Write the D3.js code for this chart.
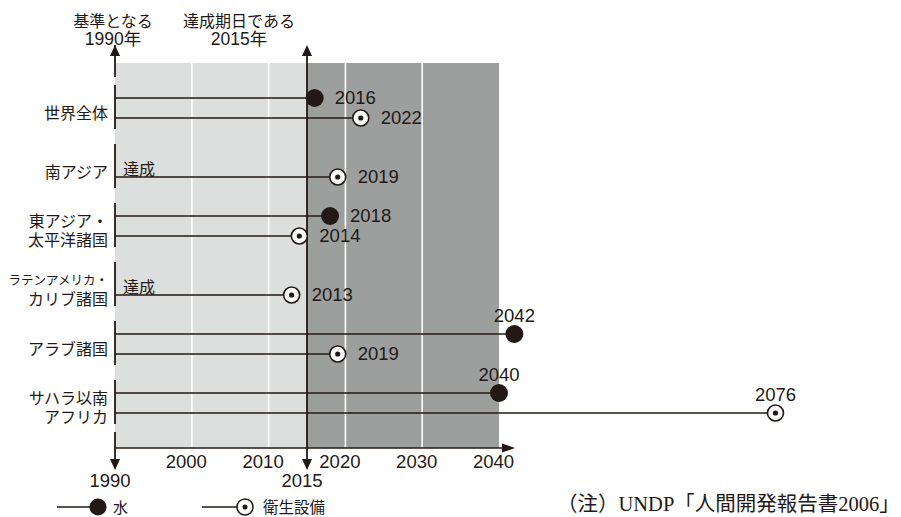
<!DOCTYPE html>
<html><head><meta charset="utf-8">
<script src="https://cdn.jsdelivr.net/npm/d3@7"></script>
<style>
html,body{margin:0;padding:0;background:#fff;}
svg{display:block;}
</style></head>
<body><div id="chart"></div>
<script>
// ---- data ----
const regions = ["世界全体", "南アジア", "東アジア・太平洋諸国", "ラテンアメリカ・カリブ諸国", "アラブ諸国", "サハラ以南アフリカ"];
const regionLabelLines = [["世界全体"], ["南アジア"], ["東アジア・", "太平洋諸国"], ["ラテンアメリカ・", "カリブ諸国"], ["アラブ諸国"], ["サハラ以南", "アフリカ"]];
const waterYears = [2016, null, 2018, null, 2042, 2040];        // null = 達成
const sanitationYears = [2022, 2019, 2014, 2013, 2019, 2076];
const xTicks = [2000, 2010, 2020, 2030, 2040];
const baseYear = 1990, targetYear = 2015, endYear = 2040;
const achievedText = "達成";
const topLabels = [["基準となる", "1990年"], ["達成期日である", "2015年"]];
const legendLabels = ["水", "衛生設備"];
const noteText = "（注）UNDP「人間開発報告書2006」";

// ---- setup ----
const W = 901, H = 517;
const ink = "#231815";
const numFont = "'Liberation Sans', Arial, 'Noto Sans CJK JP', sans-serif";
const jpFont = "'Noto Sans CJK JP', sans-serif";
const numSize = 18.5;
const svg = d3.select("#chart").append("svg").attr("width", W).attr("height", H);

const x = d3.scaleLinear().domain([baseYear, endYear]).range([115, 499]);
const yC = d3.scalePoint().domain(regions).range([108, 403]);
const plotTop = 63, axisY = 448;
const off = 10;

// backgrounds
svg.append("rect").attr("x", x(baseYear)).attr("y", plotTop)
  .attr("width", x(targetYear) - x(baseYear)).attr("height", axisY - plotTop).attr("fill", "#dcdfde");
svg.append("rect").attr("x", x(targetYear)).attr("y", plotTop)
  .attr("width", x(endYear) - x(targetYear)).attr("height", axisY - plotTop).attr("fill", "#9c9f9d");

// grid lines
svg.selectAll("line.grid").data(xTicks.filter(t => t < endYear)).enter().append("line")
  .attr("x1", d => x(d)).attr("x2", d => x(d)).attr("y1", plotTop).attr("y2", axisY)
  .attr("stroke", "#fff").attr("stroke-width", 1.6);

// left axis segments
const segs = [[45, yC(regions[0]) - 31]];
regions.forEach(r => segs.push([yC(r) - 23, yC(r) + 21]));
segs.push([yC(regions[regions.length - 1]) + 29, 462]);
svg.selectAll("line.lseg").data(segs).enter().append("line")
  .attr("x1", x(baseYear)).attr("x2", x(baseYear)).attr("y1", d => d[0]).attr("y2", d => d[1])
  .attr("stroke", ink).attr("stroke-width", 1.8);

// 2015 line
svg.append("line").attr("x1", x(targetYear)).attr("x2", x(targetYear)).attr("y1", 50).attr("y2", 462)
  .attr("stroke", ink).attr("stroke-width", 1.8);

// arrowheads
function arrowUp(cx, tip) { return `M${cx},${tip} L${cx - 5},${tip + 11} L${cx + 5},${tip + 11} Z`; }
function arrowDown(cx, tip) { return `M${cx},${tip} L${cx - 5},${tip - 11} L${cx + 5},${tip - 11} Z`; }
[baseYear, targetYear].forEach(yr => {
  svg.append("path").attr("d", arrowUp(x(yr), 45)).attr("fill", ink);
  svg.append("path").attr("d", arrowDown(x(yr), 470)).attr("fill", ink);
});

// bottom axis line + arrow
svg.append("line").attr("x1", x(baseYear)).attr("x2", 505).attr("y1", axisY).attr("y2", axisY)
  .attr("stroke", ink).attr("stroke-width", 1.5);
svg.append("path").attr("d", `M515,${axisY} L502,${axisY - 4.5} L502,${axisY + 4.5} Z`).attr("fill", ink);

const axis = d3.axisBottom(x).tickValues(xTicks).tickSize(0).tickPadding(7).tickFormat(d3.format("d"));
const gAx = svg.append("g").attr("transform", `translate(0,${axisY})`).call(axis);
gAx.select(".domain").remove();
gAx.selectAll("text").attr("font-family", numFont).attr("font-size", numSize).attr("fill", ink).attr("dx", -6);

// 1990 / 2015 labels below
svg.selectAll("text.yrlab").data([baseYear, targetYear]).enter().append("text")
  .attr("x", d => x(d) - 5).attr("y", 487).attr("text-anchor", "middle")
  .attr("font-family", numFont).attr("font-size", numSize).attr("fill", ink).text(d => d);

// top labels
const topX = [x(baseYear) - 2, 239];
topLabels.forEach((lines, i) => {
  svg.append("text").attr("x", topX[i]).attr("y", 20).attr("dominant-baseline", "central")
    .attr("text-anchor", "middle").attr("font-family", jpFont).attr("font-size", 16).attr("fill", ink).text(lines[0]);
  svg.append("text").attr("x", topX[i]).attr("y", 45).attr("text-anchor", "middle")
    .attr("font-family", numFont).attr("font-size", 17.5).attr("fill", ink).text(lines[1]);
});

// region labels
regions.forEach((r, i) => {
  const lines = regionLabelLines[i];
  const n = lines.length;
  lines.forEach((t, j) => {
    const small = t.length > 6;
    svg.append("text").attr("x", 108).attr("y", yC(r) + 3.5 + (j - (n - 1) / 2) * 19)
      .attr("dominant-baseline", "central").attr("text-anchor", "end")
      .attr("font-family", jpFont).attr("font-size", small ? 12.5 : 16).attr("fill", ink).text(t);
  });
});

// series lines
function drawSeries(values, dy) {
  regions.forEach((r, i) => {
    const v = values[i];
    const yy = yC(r) + dy;
    if (v === null) {
      svg.append("text").attr("x", 123).attr("y", yC(r) + 1).attr("dominant-baseline", "central")
        .attr("font-family", jpFont).attr("font-size", 16).attr("fill", ink).text(achievedText);
      return;
    }
    svg.append("line").attr("x1", x(baseYear)).attr("x2", x(v)).attr("y1", yy).attr("y2", yy)
      .attr("stroke", ink).attr("stroke-width", 1.6);
  });
}
// markers + value labels
function drawMarkers(values, dy, type) {
  regions.forEach((r, i) => {
    const v = values[i];
    if (v === null) return;
    const yy = yC(r) + dy;
    if (type === "water") {
      svg.append("circle").attr("cx", x(v)).attr("cy", yy).attr("r", 9).attr("fill", ink);
    } else {
      svg.append("circle").attr("cx", x(v)).attr("cy", yy).attr("r", 8).attr("fill", "#fff")
        .attr("stroke", ink).attr("stroke-width", 1.6);
      svg.append("circle").attr("cx", x(v)).attr("cy", yy).attr("r", 2.6).attr("fill", ink);
    }
    const above = v >= endYear;
    svg.append("text")
      .attr("x", above ? x(v) : x(v) + 20)
      .attr("y", above ? yy - 12 : yy + 6)
      .attr("text-anchor", above ? "middle" : "start")
      .attr("font-family", numFont).attr("font-size", numSize).attr("fill", ink).text(v);
  });
}
drawSeries(waterYears, -off);
drawSeries(sanitationYears, off);
drawMarkers(waterYears, -off, "water");
drawMarkers(sanitationYears, off, "sanitation");

// legend
const ly = 507;
svg.append("line").attr("x1", 57).attr("x2", 98).attr("y1", ly).attr("y2", ly).attr("stroke", ink).attr("stroke-width", 1.4);
svg.append("circle").attr("cx", 98).attr("cy", ly).attr("r", 8.5).attr("fill", ink);
svg.append("text").attr("x", 113).attr("y", ly - 1).attr("dominant-baseline", "central")
  .attr("font-family", jpFont).attr("font-size", 15).attr("fill", ink).text(legendLabels[0]);
svg.append("line").attr("x1", 202).attr("x2", 245).attr("y1", ly).attr("y2", ly).attr("stroke", ink).attr("stroke-width", 1.4);
svg.append("circle").attr("cx", 245).attr("cy", ly).attr("r", 8).attr("fill", "#fff").attr("stroke", ink).attr("stroke-width", 1.5);
svg.append("circle").attr("cx", 245).attr("cy", ly).attr("r", 2.5).attr("fill", ink);
svg.append("text").attr("x", 263).attr("y", ly - 1).attr("dominant-baseline", "central")
  .attr("font-family", jpFont).attr("font-size", 15.5).attr("fill", ink).text(legendLabels[1]);

// note
svg.append("text").attr("x", 557).attr("y", 504).attr("dominant-baseline", "central")
  .attr("font-family", "'Liberation Serif', 'Noto Sans CJK JP', serif").attr("font-size", 20.5).attr("fill", ink).text(noteText);
</script>
</body></html>
